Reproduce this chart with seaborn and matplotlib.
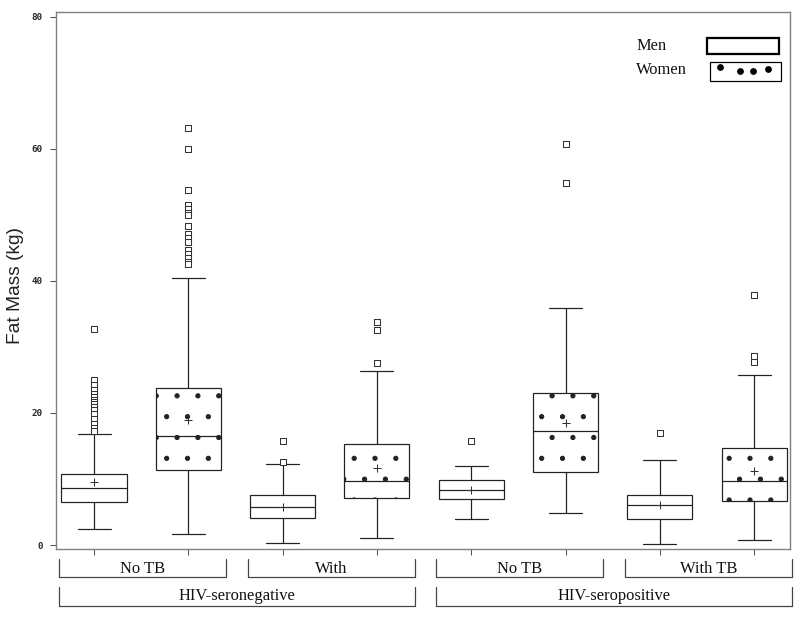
import matplotlib
matplotlib.use("Agg")
import matplotlib.pyplot as plt
import matplotlib.transforms as mtransforms
from matplotlib.patches import Rectangle
from matplotlib.lines import Line2D
import pandas as pd
import seaborn as sns

# one box per (group, sex); order: men, women for each HIV/TB group
sexes = ["Men", "Women"] * 4
tb_labels = ["No TB", "With", "No TB", "With TB"]
hiv_labels = ["HIV-seronegative", "HIV-seropositive"]

whisker_low = [2.4, 1.6, 0.3, 1.1, 4.0, 4.9, 0.1, 0.8]
quart_1 = [6.5, 11.4, 4.1, 7.1, 7.0, 11.0, 3.9, 6.6]
medians = [8.6, 16.5, 5.7, 9.7, 8.4, 17.2, 6.0, 9.7]
quart_3 = [10.8, 23.7, 7.5, 15.3, 9.8, 23.0, 7.5, 14.7]
whisker_high = [16.8, 40.5, 12.2, 26.3, 12.0, 35.9, 12.8, 25.8]
means = [9.6, 18.9, 5.8, 11.6, 8.4, 18.5, 6.0, 11.2]
outliers = [
    [32.7, 25.0, 24.2, 23.5, 22.8, 22.4, 22.0, 21.7, 21.3, 20.9, 20.4, 19.8, 19.1, 18.3, 17.7, 17.3],
    [63.2, 60.0, 53.8, 51.5, 50.8, 50.3, 50.0, 48.3, 47.1, 46.5, 45.9, 44.7, 44.0, 43.4, 42.9, 42.6],
    [15.7, 12.5],
    [33.7, 32.6, 27.5],
    [15.7],
    [60.7, 54.8],
    [17.0],
    [37.9, 28.6, 27.7],
]

DPI = 125
W, H = 800, 619

sns.set_style("white")
plt.rcParams["hatch.color"] = "black"
plt.rcParams["hatch.linewidth"] = 0.6

fig = plt.figure(figsize=(W / DPI, H / DPI), dpi=DPI)
ax = fig.add_axes([56 / W, 1 - 549 / H, (790 - 56) / W, (549 - 12) / H])

positions = list(range(len(sexes)))
stats = []
for i in positions:
    stats.append({"med": medians[i], "q1": quart_1[i], "q3": quart_3[i],
                  "whislo": whisker_low[i], "whishi": whisker_high[i],
                  "mean": means[i], "fliers": []})

line_c = "#222222"
lw = 0.7
bp = ax.bxp(stats, positions=positions, widths=0.69, capwidths=0.35,
            patch_artist=True, showfliers=False, showmeans=False, manage_ticks=False,
            boxprops=dict(facecolor="white", edgecolor=line_c, linewidth=lw),
            medianprops=dict(color=line_c, linewidth=lw),
            whiskerprops=dict(color=line_c, linewidth=lw),
            capprops=dict(color=line_c, linewidth=lw))
for box, sex in zip(bp["boxes"], sexes):
    if sex == "Women":
        box.set_hatch(".")

flier_df = pd.DataFrame({
    "pos": [p for p, vals in zip(positions, outliers) for _ in vals],
    "fat": [v for vals in outliers for v in vals],
})
mean_df = pd.DataFrame({"pos": positions, "fat": means})

sns.scatterplot(data=flier_df, x="pos", y="fat", marker="s", s=15,
                facecolor="white", edgecolor="#333333", linewidth=0.6, ax=ax, zorder=4)
sns.scatterplot(data=mean_df, x="pos", y="fat", marker="+", s=22,
                color="#333333", linewidth=0.6, ax=ax, zorder=4)

ax.set_xlim(-0.403, 7.38)
ax.set_ylim(-0.6, 80.7)
ax.set_xticks(positions)
ax.set_xticklabels([])
ax.set_yticks([0, 20, 40, 60, 80])
ax.set_xlabel("")
ax.tick_params(axis="both", direction="out", length=3.5, width=0.6, color="#555555",
               left=True, bottom=True)
ax.tick_params(axis="y", labelsize=5.3, pad=4)
for lbl in ax.get_yticklabels():
    lbl.set_fontfamily("DejaVu Sans Mono")
    lbl.set_fontweight("bold")
for sp in ax.spines.values():
    sp.set_color("#808080")
    sp.set_linewidth(0.8)

ax.set_ylabel("Fat Mass (kg)", fontsize=11, family="Liberation Sans", color="#222222")
ax.yaxis.set_label_coords(-0.044, 0.49)

# legend drawn by hand: left-aligned text, then the box sample
serif = {"family": "Liberation Serif", "size": 9.5}
legend_rows = [("Men", 637, 46, (707, 38, 779, 54), False, 1.3),
               ("Women", 636, 70, (710, 62, 781, 81), True, 0.7)]
# dot pattern of the women key, as fractions of the key box
key_dot_x = [0.14, 0.42, 0.61, 0.82]
key_dot_y = [0.26, 0.47, 0.47, 0.37]
for label, tx, ty, (x0, y0, x1, y1), dotted, edge_lw in legend_rows:
    fig.text(tx / W, 1 - ty / H, label, ha="left", va="center", color="#111111", **serif)
    fig.add_artist(Rectangle((x0 / W, 1 - y1 / H), (x1 - x0) / W, (y1 - y0) / H,
                             transform=fig.transFigure, facecolor="white",
                             edgecolor="black", linewidth=edge_lw))
    if dotted:
        xs = [(x0 + fx * (x1 - x0)) / W for fx in key_dot_x]
        ys = [1 - (y0 + fy * (y1 - y0)) / H for fy in key_dot_y]
        fig.add_artist(Line2D(xs, ys, transform=fig.transFigure, linestyle="none",
                              marker="o", markersize=2.9, color="black"))

# bracket labels below the axis
trans = mtransforms.blended_transform_factory(ax.transData, fig.transFigure)
rows = [(tb_labels, 2, 1 - 559.3 / H, 1 - 576.7 / H, 1 - 569 / H),
        (hiv_labels, 4, 1 - 586.7 / H, 1 - 606 / H, 1 - 595.7 / H)]
for labels, span, y_top, y_bot, y_txt in rows:
    for k, lab in enumerate(labels):
        x0 = k * span - 0.37
        x1 = k * span + span - 1 + 0.40
        ax.plot([x0, x0, x1, x1], [y_top, y_bot, y_bot, y_top], transform=trans,
                color="#444444", linewidth=0.7, clip_on=False)
        ax.text((x0 + x1) / 2, y_txt, lab, transform=trans, ha="center", va="center",
                color="#111111", **serif)

fig.savefig("out.png", dpi=DPI)
